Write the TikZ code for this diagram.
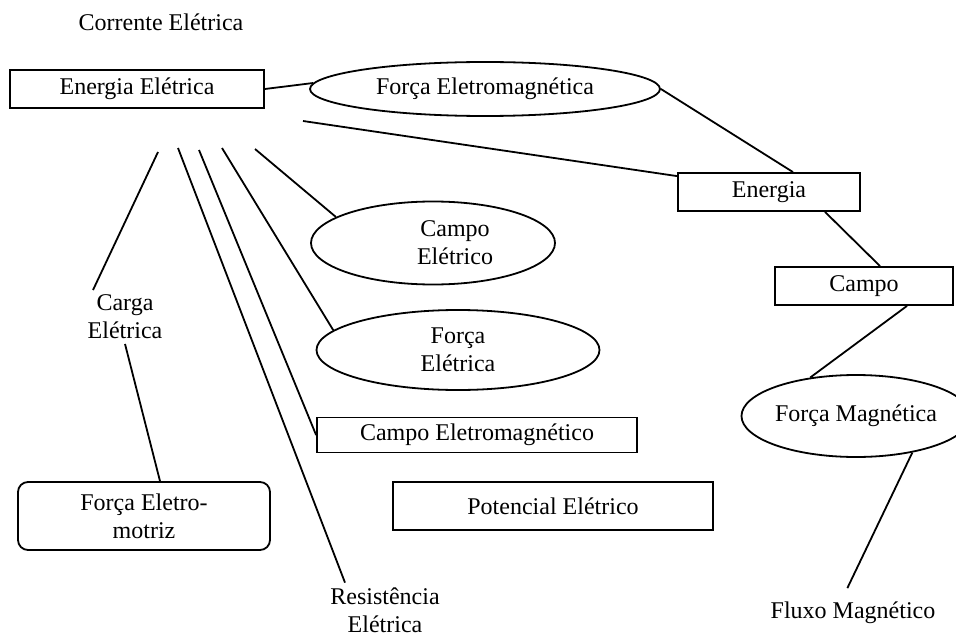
\documentclass[tikz,border=0pt]{standalone}
\usepackage{fontspec}
\setmainfont{Liberation Serif}
\usetikzlibrary{shapes.geometric}

\begin{document}
\begin{tikzpicture}[x=0.5pt, y=-0.5pt, line width=0.9pt,
  every node/.style={font=\fontsize{12}{14}\selectfont, align=center},
  caixa/.style={draw, rectangle, inner sep=2pt},
  elipse/.style={draw, ellipse, inner sep=0pt},
  termo/.style={inner sep=2pt}]
%%%%% Moldura %%%%%
\useasboundingbox (0,0) rectangle (956,636);
%%%%% Conceitos %%%%%
\node[termo] (corrente) at (161,22) {Corrente Elétrica};
\node[caixa, minimum width=127pt, minimum height=19pt] (enel) at (137,89) {Energia Elétrica};
\node[elipse, minimum width=175pt, minimum height=27pt] (forcaem) at (485,89) {Força Eletromagnética};
\node[caixa, minimum width=91pt, minimum height=19pt] (energia) at (769,192) {Energia};
\node[caixa, minimum width=89pt, minimum height=19pt] (campo) at (864,286) {Campo};
\node[elipse, minimum width=96pt, minimum height=41pt] (forcamag) at (856,416) {Força Magnética};
\node[termo] (fluxo) at (853,613) {Fluxo Magnético};
\node[elipse, minimum width=122pt, minimum height=41.5pt,
  label={[xshift=11pt, align=center]center:Campo\\Elétrico}] (campoel) at (433,243) {};
\node[elipse, minimum width=141.5pt, minimum height=40pt] (forcael) at (458,350) {Força\\Elétrica};
\node[caixa, minimum width=160pt, minimum height=17.5pt] (campoem) at (477,435) {Campo Eletromagnético};
\node[caixa, minimum width=160pt, minimum height=24pt] (potencial) at (553,506) {Potencial Elétrico};
\node[termo] (carga) at (125,317) {Carga\\Elétrica};
\node[caixa, rounded corners=5pt, minimum width=126pt, minimum height=34pt] (fem) at (144,516) {Força Eletro-\\motriz};
\node[termo] (resist) at (385,610) {Resistência\\Elétrica};
%%%%% Pontas soltas %%%%%
\coordinate (s0) at (303,121);
\coordinate (s1) at (158,152);
\coordinate (s2) at (178,148);
\coordinate (s3) at (199,150);
\coordinate (s4) at (222,148);
\coordinate (s5) at (255,149);
%%%%% Ligacoes %%%%%
\draw (enel.east) -- (forcaem.178);
\draw (forcaem.east) -- ([xshift=12pt]energia.north);
\draw (s0) -- ([yshift=-2pt]energia.north west);
\draw ([xshift=28pt]energia.south) -- ([xshift=8pt]campo.north);
\draw ([xshift=21.5pt]campo.south) -- (forcamag.140);
\draw[shorten >=5pt] (forcamag.-33) -- ([xshift=-5pt]fluxo.north);
\draw (s1) -- ([xshift=-16pt]carga.north);
\draw (carga.south) -- ([xshift=8pt]fem.north);
\draw (s2) -- ([xshift=-20pt]resist.north);
\draw (s3) -- (campoem.west);
\draw (s4) -- (forcael.171);
\draw (s5) -- (campoel.165);
\end{tikzpicture}
\end{document}
